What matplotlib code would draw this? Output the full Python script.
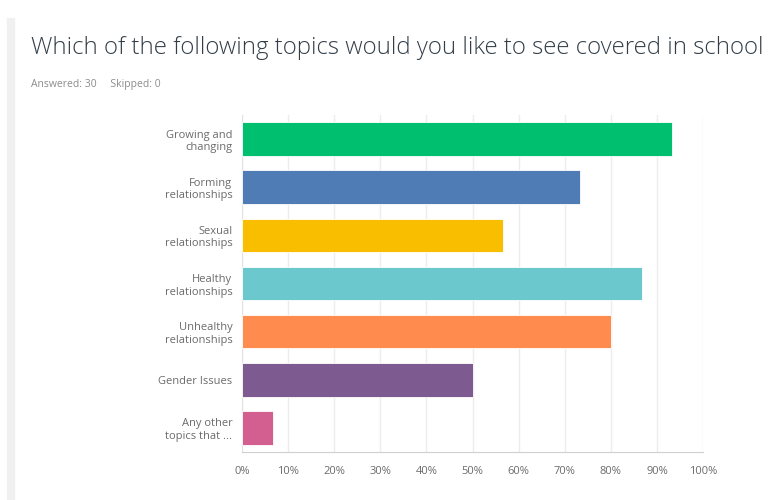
import matplotlib
matplotlib.use("Agg")
import matplotlib.pyplot as plt
from matplotlib.patches import Rectangle

# Survey answers (share of 30 respondents)
topics = [
    "Growing and\nchanging",
    "Forming\nrelationships",
    "Sexual\nrelationships",
    "Healthy\nrelationships",
    "Unhealthy\nrelationships",
    "Gender Issues",
    "Any other\ntopics that ...",
]
shares = [93.33, 73.33, 56.67, 86.67, 80.00, 50.00, 6.67]
colors = ["#00bf6f", "#507cb6", "#f9be00", "#6bc8cd", "#ff8b4f", "#7d5a8f", "#d25f90"]
x_ticks = [0, 10, 20, 30, 40, 50, 60, 70, 80, 90, 100]
x_labels = [f"{t}%" for t in x_ticks]

plt.rcParams["font.family"] = ["Open Sans", "DejaVu Sans"]

fig = plt.figure(figsize=(7.72, 5.0), dpi=100)
fig.patch.set_facecolor("white")

# light grey strip on the left edge of the page
fig.patches.append(Rectangle((7 / 772, 0), 7 / 772, 1 - 18 / 500,
                             transform=fig.transFigure, color="#f0f0f0", zorder=0))

fig.text(31 / 772, 1 - 48 / 500,
         "Which of the following topics would you like to see covered in school",
         fontsize=17.3, color="#333e48", fontweight="light", va="center", ha="left")
fig.text(31 / 772, 1 - 84 / 500, "Answered: 30     Skipped: 0",
         fontsize=7.5, color="#8c8c8c", va="center", ha="left")

ax = fig.add_axes([242 / 772, 1 - 452 / 500, 461 / 772, 337 / 500])
y = range(len(topics))
ax.barh(y, shares, height=0.7, color=colors, edgecolor="white", linewidth=0.6, zorder=3)

ax.set_xlim(0, 100)
ax.set_ylim(len(topics) - 0.5, -0.5)
ax.set_xticks(x_ticks, x_labels)
ax.set_yticks(list(y), topics)
ax.grid(axis="x", color="#ececec", linewidth=1, zorder=0)
ax.set_axisbelow(True)

for spine in ("top", "right"):
    ax.spines[spine].set_visible(False)
ax.spines["left"].set_color("#e3e3e3")
ax.spines["bottom"].set_color("#d0d0d0")
ax.tick_params(axis="both", length=0, labelsize=8, labelcolor="#6b6b6b")
ax.tick_params(axis="x", pad=10)
ax.tick_params(axis="y", pad=7)
for lbl in ax.get_yticklabels():
    lbl.set_horizontalalignment("right")
    lbl.set_multialignment("right")

fig.savefig("out.png", dpi=100)
